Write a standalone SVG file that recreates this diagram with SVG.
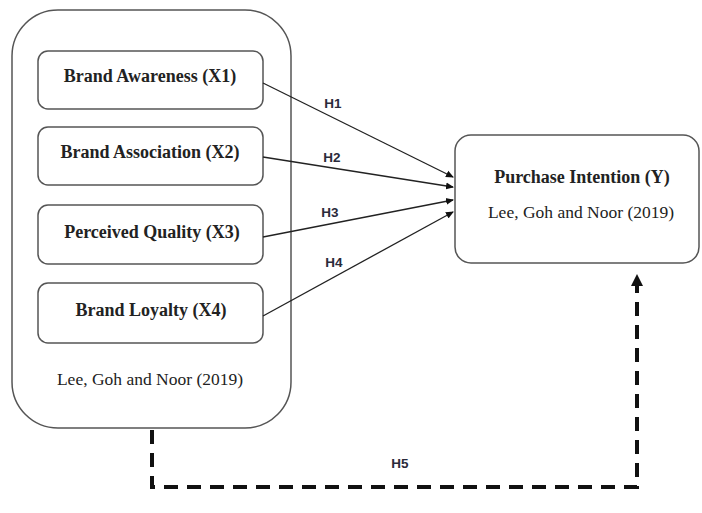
<svg xmlns="http://www.w3.org/2000/svg" width="702" height="513" viewBox="0 0 702 513">
<style>
.box{fill:#fff;stroke:#555;stroke-width:1.5}
.t{font-family:"Liberation Serif",serif;font-size:17.5px;fill:#222;text-anchor:middle}
.b{font-weight:bold;font-size:18px}
.h{font-family:"Liberation Sans",Arial,sans-serif;font-size:13.5px;font-weight:bold;fill:#2a2a3a;text-anchor:middle}
.ln{stroke:#222;stroke-width:1.3;fill:none}
.dash{stroke:#111;stroke-width:4;fill:none;stroke-dasharray:14 9}
</style>
<defs>
<marker id="ah" markerWidth="8" markerHeight="8" refX="7" refY="4" orient="auto" markerUnits="userSpaceOnUse">
<path d="M0,0.5 L8,4 L0,7.5 Z" fill="#111"/>
</marker>
<marker id="ahb" markerWidth="12" markerHeight="14" refX="10" refY="6" orient="auto" markerUnits="userSpaceOnUse">
<path d="M0,0 L12,6 L0,12 Z" fill="#111"/>
</marker>
</defs>
<rect width="702" height="513" fill="#fff"/>
<g id="outer">
<rect class="box" x="12" y="10" width="279" height="418" rx="46"/>
<text class="t" x="150" y="385">Lee, Goh and Noor (2019)</text>
</g>
<g id="x1">
<rect class="box" x="38" y="51" width="225" height="58" rx="10"/>
<text class="t b" x="150" y="82">Brand Awareness (X1)</text>
</g>
<g id="x2">
<rect class="box" x="38" y="127" width="225" height="58" rx="10"/>
<text class="t b" x="150" y="158">Brand Association (X2)</text>
</g>
<g id="x3">
<rect class="box" x="38" y="205" width="225" height="59" rx="10"/>
<text class="t b" x="152" y="238">Perceived Quality (X3)</text>
</g>
<g id="x4">
<rect class="box" x="38" y="283" width="225" height="60" rx="10"/>
<text class="t b" x="151" y="316">Brand Loyalty (X4)</text>
</g>
<g id="y">
<rect class="box" x="455" y="135" width="244" height="128" rx="16"/>
<text class="t b" x="582" y="183">Purchase Intention (Y)</text>
<text class="t" x="581" y="218">Lee, Goh and Noor (2019)</text>
</g>
<g id="connectors">
<line class="ln" x1="263" y1="83" x2="453" y2="177" marker-end="url(#ah)"/>
<line class="ln" x1="263" y1="157" x2="453" y2="187" marker-end="url(#ah)"/>
<line class="ln" x1="263" y1="237" x2="453" y2="200" marker-end="url(#ah)"/>
<line class="ln" x1="263" y1="316" x2="453" y2="212" marker-end="url(#ah)"/>
<path class="dash" d="M152,430 L152,487 L637,487 L637,276" marker-end="url(#ahb)"/>
<text class="h" x="333" y="108">H1</text>
<text class="h" x="332" y="162">H2</text>
<text class="h" x="330" y="217">H3</text>
<text class="h" x="334" y="267">H4</text>
<text class="h" x="400" y="468">H5</text>
</g>
</svg>
